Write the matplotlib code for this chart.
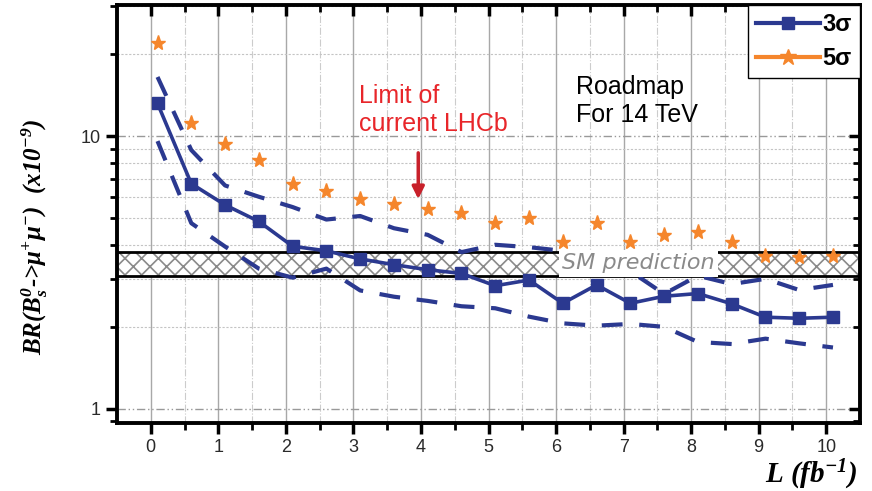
import numpy as np
import matplotlib
matplotlib.use("Agg")
import matplotlib.pyplot as plt
from matplotlib.lines import Line2D
from matplotlib.ticker import FixedLocator, LogLocator, NullFormatter, FuncFormatter

plt.rcParams["font.family"] = ["Liberation Sans", "DejaVu Sans"]
plt.rcParams["mathtext.fontset"] = "custom"
plt.rcParams["mathtext.rm"] = "Liberation Serif:bold:italic"
plt.rcParams["mathtext.it"] = "Liberation Serif:bold:italic"
plt.rcParams["hatch.linewidth"] = 1.2

# luminosity points (fb^-1)
lumi = [0.1, 0.6, 1.1, 1.6, 2.1, 2.6, 3.1, 3.6, 4.1, 4.6, 5.1,
        5.6, 6.1, 6.6, 7.1, 7.6, 8.1, 8.6, 9.1, 9.6, 10.1]

# 3 sigma central line and its dashed band
sigma3 = [13.2, 6.7, 5.6, 4.87, 3.95, 3.8, 3.55, 3.38, 3.24, 3.14, 2.83,
          2.97, 2.44, 2.85, 2.44, 2.59, 2.65, 2.43, 2.17, 2.15, 2.17]
sigma3_up = [16.5, 8.9, 6.6, 6.0, 5.5, 4.95, 5.1, 4.6, 4.35, 3.76, 4.0,
             3.92, 3.8, 3.6, 3.2, 2.64, 3.08, 2.87, 3.0, 2.73, 2.85]
sigma3_lo = [9.6, 4.8, 3.94, 3.27, 3.03, 3.27, 2.72, 2.58, 2.49, 2.38, 2.34,
             2.18, 2.06, 2.02, 2.05, 2.0, 1.76, 1.73, 1.81, 1.74, 1.68]

# 5 sigma points
sigma5 = [22.0, 11.2, 9.4, 8.2, 6.7, 6.3, 5.9, 5.65, 5.4, 5.25, 4.8,
          5.0, 4.1, 4.8, 4.1, 4.35, 4.45, 4.1, 3.65, 3.6, 3.65]

# SM prediction band
sm_low, sm_high = 3.08, 3.76

navy = "#2b3990"
orange = "#f5862c"

fig = plt.figure(figsize=(8.72, 4.91), dpi=100)
ax = fig.add_axes([117 / 872, 1 - 423 / 491, 743 / 872, 418 / 491])

ax.set_yscale("log")
ax.set_xlim(-0.5, 10.5)
ax.set_ylim(0.888, 30.3)

# grid lines
for xv in range(0, 11):
    ax.axvline(xv, color="#a8a8a8", lw=1.0, zorder=0)
for xv in np.arange(0.5, 10.5, 1.0):
    ax.axvline(xv, color="#cccccc", lw=0.8, ls="-.", zorder=0)
for yv in [1, 10]:
    ax.axhline(yv, color="#999999", lw=1.0, ls=(0, (6, 2, 1, 2, 1, 2)), zorder=0)
for yv in [2, 3, 4, 5, 6, 7, 8, 9, 20, 30]:
    ax.axhline(yv, color="#c4c4c4", lw=0.8, ls=(0, (2, 1.5)), zorder=0)

# SM band
ax.axhspan(sm_low, sm_high, facecolor="white", edgecolor="#8a8a8a",
           hatch="xx", lw=0, zorder=1)
ax.axhline(sm_low, color="black", lw=2, zorder=1.5)
ax.axhline(sm_high, color="black", lw=2, zorder=1.5)

# data
ax.plot(lumi, sigma3_up, color=navy, lw=3, ls=(0, (5, 4)), zorder=3)
ax.plot(lumi, sigma3_lo, color=navy, lw=3, ls=(0, (5, 4)), zorder=3)
ax.plot(lumi, sigma3, color=navy, lw=2.6, marker="s", ms=9, zorder=4)
ax.plot(lumi, sigma5, ls="none", color=orange, marker="*", ms=11, zorder=4)

ax.text(7.22, 3.42, "SM prediction", fontsize=16, style="italic",
        family="DejaVu Sans", color="#8a8a8a", ha="center", va="center",
        bbox=dict(facecolor="white", edgecolor="none", pad=2.5), zorder=5)

# annotations
ax.text(3.08, 15.5, "Limit of\ncurrent LHCb", color="#e8262a", fontsize=18,
        ha="left", va="top", linespacing=1.2, zorder=6)
ax.annotate("", xy=(3.96, 5.75), xytext=(3.96, 8.9),
            arrowprops=dict(arrowstyle="-|>", color="#c8202a", lw=2.5,
                            mutation_scale=18), zorder=6)
ax.text(6.29, 16.8, "Roadmap\nFor 14 TeV", color="black", fontsize=18,
        ha="left", va="top", linespacing=1.2, zorder=6)

# ticks
ax.xaxis.set_major_locator(FixedLocator(range(0, 11)))
ax.xaxis.set_minor_locator(FixedLocator(np.arange(0.5, 10.5, 1.0)))
ax.yaxis.set_major_locator(FixedLocator([1, 10]))
ax.yaxis.set_minor_locator(LogLocator(base=10, subs=range(2, 10)))
ax.yaxis.set_minor_formatter(NullFormatter())
ax.yaxis.set_major_formatter(FuncFormatter(lambda v, p: f"{v:g}"))

ax.tick_params(axis="both", which="major", labelsize=13, width=2.5,
               length=8, colors="black", labelcolor="#2a2a2a")
ax.tick_params(axis="both", which="minor", width=2, length=5)
ax.tick_params(axis="x", which="both", direction="out", top=True)
ax.tick_params(axis="y", which="both", direction="out", right=True)
# top and right ticks point inward
for t in ax.xaxis.get_ticklines(minor=False)[1::2] + ax.xaxis.get_ticklines(minor=True)[1::2]:
    t.set_marker(3)
for t in ax.yaxis.get_ticklines(minor=False)[1::2] + ax.yaxis.get_ticklines(minor=True)[1::2]:
    t.set_marker(0)
for s in ax.spines.values():
    s.set_linewidth(2.8)

# legend
handles = [
    Line2D([], [], color=navy, lw=3, marker="s", ms=9),
    Line2D([], [], color=orange, lw=3, marker="*", ms=12),
]
leg = ax.legend(handles, ["3σ", "5σ"], loc="upper right", borderaxespad=0,
                handlelength=2.7, fancybox=False, framealpha=1,
                edgecolor="black", prop=dict(weight="bold", size=17),
                handletextpad=0.1, borderpad=0.35, labelspacing=0.45)
leg.get_frame().set_linewidth(1)
leg.set_zorder(10)

# axis labels
fig.text(35 / 872, 1 - 237 / 491, r"BR(B$_s^{0}$->μ$^{+}$μ$^{-}$)  (x10$^{-9}$)",
         rotation=90, ha="center", va="center", fontsize=18,
         family="Liberation Serif", weight="bold", style="italic")
fig.text(858 / 872, 1 - 475 / 491, r"L (fb$^{-1}$)", ha="right", va="center",
         fontsize=21, family="Liberation Serif", weight="bold", style="italic")

fig.savefig("out.png", dpi=100)
